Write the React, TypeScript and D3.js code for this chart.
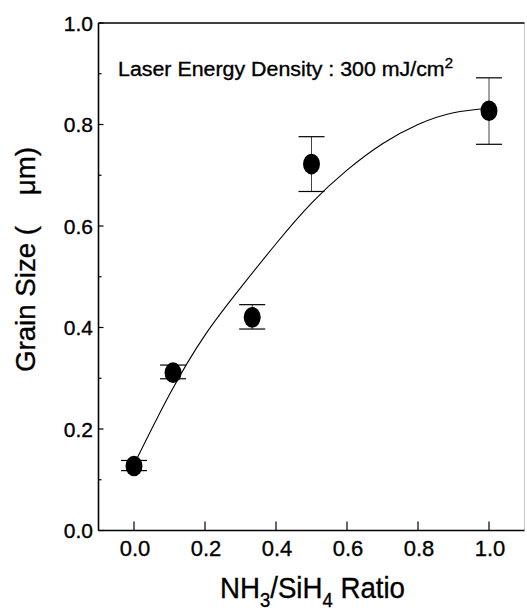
import React from "react";
import * as d3 from "d3";

const W = 527;
const H = 614;

// Measured points
const ratio = [0, 0.11, 0.333, 0.5, 1.0];
const grainSize = [0.127, 0.311, 0.42, 0.722, 0.827];
const errUpper = [0.138, 0.326, 0.445, 0.776, 0.892];
const errLower = [0.118, 0.299, 0.397, 0.668, 0.761];

// Fitted curve
const fitX = [0, 0.1, 0.2, 0.3, 0.4, 0.5, 0.6, 0.7, 0.8, 0.9, 1.0];
const fitY = [0.13, 0.268, 0.385, 0.478, 0.565, 0.645, 0.71, 0.762, 0.8, 0.823, 0.832];

const xTicks = [0, 0.2, 0.4, 0.6, 0.8, 1.0];
const yTicks = [0, 0.2, 0.4, 0.6, 0.8, 1.0];
const yMinor = [0.1, 0.3, 0.5, 0.7, 0.9];

const FONT = "'Liberation Sans', Arial, Helvetica, sans-serif";

export default function App() {
  const x = d3.scaleLinear().domain([-0.1, 1.1]).range([98.5, 524.5]);
  const y = d3.scaleLinear().domain([0, 1]).range([530.5, 23]);

  const line = d3
    .line<number>()
    .x((d, i) => x(fitX[i]))
    .y((d) => y(d))
    .curve(d3.curveNatural);

  const fmt = d3.format(".1f");
  const heavy = { stroke: "#000", strokeWidth: 0.35 };

  return (
    <svg
      width={W}
      height={H}
      style={{ position: "absolute", left: 0, top: 0, background: "#fff" }}
      fontFamily={FONT}
    >
      <rect x={0} y={0} width={W} height={H} fill="#fff" />
      {/* frame */}
      <line x1={x(1.1)} x2={x(1.1)} y1={y(1)} y2={y(0)} stroke="#c8c8c8" strokeWidth={1} />
      <line x1={x(-0.1)} x2={x(1.1)} y1={y(1)} y2={y(1)} stroke="#000" strokeWidth={1.3} />
      <line x1={x(-0.1)} x2={x(1.1)} y1={y(0)} y2={y(0)} stroke="#000" strokeWidth={1.6} />
      <line x1={x(-0.1)} x2={x(-0.1)} y1={y(1)} y2={y(0)} stroke="#000" strokeWidth={1.6} />

      {/* y ticks */}
      {yTicks.map((t) => (
        <g key={"yt" + t}>
          <line x1={x(-0.1)} x2={x(-0.1) + 5} y1={y(t)} y2={y(t)} stroke="#000" strokeWidth={1.2} />
          <text x={93} y={y(t)} dy="0.36em" textAnchor="end" fontSize={21} {...heavy}>
            {fmt(t)}
          </text>
        </g>
      ))}
      {yMinor.map((t) => (
        <line key={"ym" + t} x1={x(-0.1)} x2={x(-0.1) + 3} y1={y(t)} y2={y(t)} stroke="#000" strokeWidth={1.2} />
      ))}

      {/* x ticks */}
      {xTicks.map((t) => (
        <g key={"xt" + t}>
          <line x1={x(t)} x2={x(t)} y1={y(0)} y2={y(0) - 9} stroke="#000" strokeWidth={1.2} />
          <text x={x(t) + 1} y={556} textAnchor="middle" fontSize={22} {...heavy}>
            {fmt(t)}
          </text>
        </g>
      ))}

      {/* fitted curve */}
      <path d={line(fitY) || ""} fill="none" stroke="#000" strokeWidth={1.1} />

      {/* error bars and markers */}
      {ratio.map((r, i) => (
        <g key={"p" + i}>
          <line x1={x(r)} x2={x(r)} y1={y(errUpper[i])} y2={y(errLower[i])} stroke="#444" strokeWidth={1} />
          <line x1={x(r) - 13} x2={x(r) + 13} y1={y(errUpper[i])} y2={y(errUpper[i])} stroke="#000" strokeWidth={1.2} />
          <line x1={x(r) - 13} x2={x(r) + 13} y1={y(errLower[i])} y2={y(errLower[i])} stroke="#000" strokeWidth={1.2} />
          <ellipse cx={x(r)} cy={y(grainSize[i])} rx={8.5} ry={10.3} fill="#000" />
        </g>
      ))}

      {/* annotation */}
      <text x={118} y={76} fontSize={20} textLength={335} lengthAdjust="spacingAndGlyphs" {...heavy}>
        Laser Energy Density : 300 mJ/cm
        <tspan fontSize={14} dy={-8}>2</tspan>
      </text>

      {/* x title */}
      <text x={220} y={598} fontSize={30} textLength={185} lengthAdjust="spacingAndGlyphs" {...heavy}>
        NH
        <tspan fontSize={20} dy={9}>3</tspan>
        <tspan dy={-9}>/SiH</tspan>
        <tspan fontSize={20} dy={9}>4</tspan>
        <tspan dy={-9}> Ratio</tspan>
      </text>

      {/* y title */}
      <text
        transform="translate(35,372) rotate(-90)"
        x={0}
        y={0}
        fontSize={28}
        textLength={225}
        lengthAdjust="spacingAndGlyphs"
        style={{ whiteSpace: "pre" }}
        {...heavy}
      >
        {"Grain Size (\u00a0\u00a0\u00a0\u00a0μm)"}
      </text>
    </svg>
  );
}
